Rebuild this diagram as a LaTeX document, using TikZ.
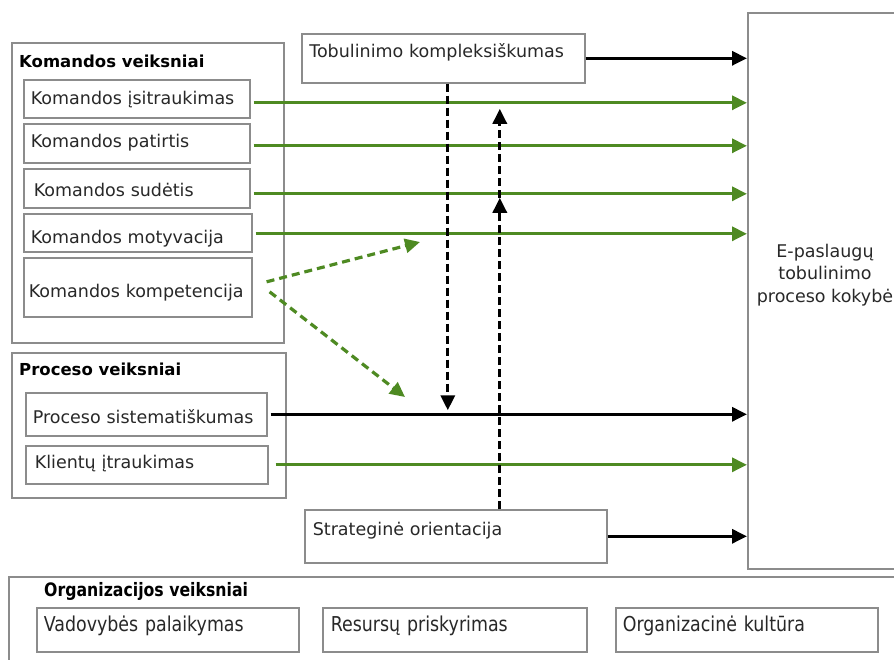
\documentclass[tikz,border=0pt]{standalone}
\usepackage{fontspec}
\setmainfont{DejaVu Sans}
\newfontfamily\orgfont[FakeStretch=0.85]{DejaVu Sans}
\usetikzlibrary{arrows.meta, calc}
\definecolor{LeafGreen}{RGB}{78,138,34}
\definecolor{FrameGray}{RGB}{140,140,140}
\definecolor{InkGray}{RGB}{40,40,40}

\tikzset{
  factor/.style={draw=FrameGray, line width=1.6pt, fill=white, anchor=north west,
    inner xsep=7pt, inner ysep=0pt, align=left, text=InkGray,
    font=\fontsize{17.5}{21}\selectfont, text width=#1},
  orgfactor/.style={factor=#1, font=\orgfont\fontsize{20.5}{24}\selectfont,
    text height=24pt, text depth=20pt},
  group/.style={draw=FrameGray, line width=1.6pt, anchor=north west, inner sep=0pt},
  grouptitle/.style={anchor=base west, inner sep=0pt, font=\bfseries\fontsize{16.5}{20}\selectfont},
  flow/.style={line width=3pt, -{Triangle[length=15pt,width=14pt]}},
  link/.style={line width=3.2pt, dash pattern=on 8pt off 4pt, -{Triangle[length=15pt,width=14pt]}},
}

\begin{document}
\begin{tikzpicture}[x=1pt, y=-1pt]
        \useasboundingbox (0,0) rectangle (894,659);
        \clip (0,0) rectangle (894,659);

        % Komandos veiksniai
        \node[group, minimum width=272pt, minimum height=300pt] (kom) at (11,42) {};
        \node[grouptitle] (komT) at (19,67) {Komandos veiksniai};
        \node[factor=212pt, text height=25pt, text depth=13pt] (kv1) at (23,79) {Komandos įsitraukimas};
        \node[factor=212pt, text height=24pt, text depth=15pt] (kv2) at (23,123) {Komandos patirtis};
        \node[factor=212pt, text height=28pt, text depth=11pt] (kv3) at (23,168) {\hspace{3pt}Komandos sudėtis};
        \node[factor=214pt, text height=30pt, text depth=8pt] (kv4) at (23,213) {Komandos motyvacija};
        \node[factor=218pt, inner xsep=5pt, text height=40pt, text depth=19pt] (kv5) at (23,257) {Komandos kompetencija};

        % Proceso veiksniai
        \node[group, minimum width=274pt, minimum height=145pt] (proc) at (11,352) {};
        \node[grouptitle] (procT) at (19,375) {Proceso veiksniai};
        \node[factor=227pt, text height=31pt, text depth=12pt] (pv1) at (25,392) {Proceso sistematiškumas};
        \node[factor=228pt, text height=23pt, text depth=15pt] (pv2) at (25,445) {\hspace{2pt}Klientų įtraukimas};

        % Tobulinimo kompleksiškumas, strateginė orientacija
        \node[factor=268pt, inner xsep=7.5pt, text height=24pt, text depth=25pt] (tob) at (301,33) {Tobulinimo kompleksiškumas};
        \node[factor=286pt, inner xsep=8pt, text height=26pt, text depth=27pt] (str) at (304,509) {Strateginė orientacija};

        % Rezultatas
        \node[group, minimum width=156pt, minimum height=556pt] (res) at (747,12) {};
        \node[align=center, text=InkGray, font=\fontsize{17.5}{22.5}\selectfont] (resT) at (825,275)
            {E-paslaugų\\tobulinimo\\proceso kokybė};

        % Organizacijos veiksniai
        \node[group, minimum width=900pt, minimum height=100pt] (org) at (8,576) {};
        \node[grouptitle, font=\orgfont\bfseries\fontsize{18.5}{22}\selectfont] (orgT) at (44,596) {Organizacijos veiksniai};
        \node[orgfactor=248pt] (ov1) at (36,607) {Vadovybės palaikymas};
        \node[orgfactor=248pt, inner xsep=8pt] (ov2) at (322,607) {Resursų priskyrimas};
        \node[orgfactor=248pt] (ov3) at (615,607) {Organizacinė kultūra};

        % arrows
        \coordinate (g1) at ([xshift=3pt,yshift=-4pt]kv1.east);
        \coordinate (g2) at ([xshift=3pt,yshift=-2.5pt]kv2.east);
        \coordinate (g3) at ([xshift=3pt,yshift=-5.5pt]kv3.east);
        \coordinate (g4) at ([xshift=3pt,yshift=-1pt]kv4.east);
        \coordinate (g5) at ([xshift=7pt]pv2.east);
        \coordinate (p1) at ([xshift=3pt]pv1.east);
        \foreach \g in {g1, g2, g3, g4, g5} {
            \draw[flow, LeafGreen] (\g) -- (\g -| res.west);
        }
        \draw[flow] (p1) -- (p1 -| res.west);
        \draw[flow] (tob.east) -- (tob.east -| res.west);
        \draw[flow] (str.east) -- (str.east -| res.west);

        % green dashed
        \coordinate (m1) at (420,242);
        \coordinate (m2) at (405,397);
        \draw[link, LeafGreen, dash pattern=on 8pt off 5pt] ([xshift=14pt,yshift=5.5pt]kv5.east) -- (m1);
        \draw[link, LeafGreen, dash pattern=on 8pt off 5pt] ([xshift=17pt,yshift=-4.5pt]kv5.east) -- (m2);

        % black dashed
        \coordinate (dn) at ([xshift=4.5pt]tob.south);
        \coordinate (dnEnd) at (dn |- p1);
        \draw[link] (dn) -- ([yshift=4pt]dnEnd);
        \coordinate (up) at ([xshift=44pt]str.north);
        \coordinate (upA) at (up |- g1);
        \coordinate (upB) at (up |- g3);
        \draw[link] (up) -- ([yshift=-4pt]upB);
        \draw[link] ([yshift=-4pt]upB) -- ([yshift=-6pt]upA);
    \end{tikzpicture}
\end{document}
